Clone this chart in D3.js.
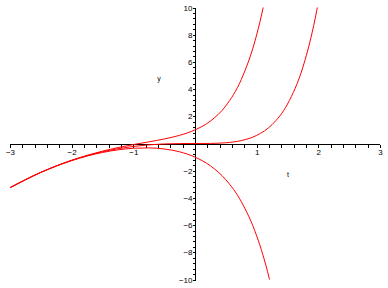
<!DOCTYPE html>
<html>
<head>
<meta charset="utf-8">
<script src="https://cdn.jsdelivr.net/npm/d3@7"></script>
<style>
  body { margin: 0; background: #fff; }
  text { font-family: "Liberation Sans", Arial, sans-serif; fill: #000; }
</style>
</head>
<body>
<div id="chart"></div>
<script>
// values
const tValues = [-3, -2.5, -2, -1.5, -1.25, -1, -0.75, -0.5, -0.25, 0, 0.25, 0.5, 0.75, 1, 1.1, 1.15];
const upperCurve = [-3.25, -2.12, -1.23, -0.56, -0.30, -0.08, 0.12, 0.33, 0.60, 1.00, 1.65, 2.77, 4.70, 7.99, 9.88, 10.98];

const tMiddle = [-3, -2.5, -2, -1.5, -1.25, -1, -0.75, -0.5, -0.25, 0, 0.25, 0.5, 0.75, 1, 1.25, 1.5, 1.75, 1.9, 1.95, 2];
const middleCurve = [-3.25, -2.12, -1.245, -0.61, -0.386, -0.216, -0.10, -0.033, -0.005, 0, 0.006, 0.055, 0.214, 0.597, 1.39, 2.90, 5.62, 8.17, 9.22, 10.40];

const tLower = [-3, -2.5, -2, -1.5, -1.25, -1, -0.75, -0.5, -0.25, 0, 0.25, 0.5, 0.75, 1, 1.1, 1.2, 1.25];
const lowerCurve = [-3.25, -2.13, -1.26, -0.66, -0.468, -0.351, -0.324, -0.401, -0.611, -1.0, -1.643, -2.664, -4.268, -6.79, -8.17, -9.84, -10.79];

const xTickLabels = [-3, -2, -1, 1, 2, 3];
const yTickLabels = [-10, -8, -6, -4, -2, 2, 4, 6, 8, 10];
const xLabel = 't';
const yLabel = 'y';

const width = 388, height = 288;

const svg = d3.select('#chart')
  .append('svg')
  .attr('width', width)
  .attr('height', height);

const x = d3.scaleLinear().domain([-3, 3]).range([10, 380]);
const y = d3.scaleLinear().domain([-10, 10]).range([279.5, 7.5]);

svg.append('defs').append('clipPath')
  .attr('id', 'plot-clip')
  .append('rect')
  .attr('x', x(-3))
  .attr('y', y(10))
  .attr('width', x(3) - x(-3))
  .attr('height', y(-10) - y(10));

const fmt = d => d3.format('')(d);

// minor ticks along x every 0.2, labels on integers
const xAxis = svg.append('g')
  .attr('transform', `translate(0,${Math.round(y(0)) + 0.5})`)
  .call(d3.axisBottom(x)
    .tickValues(d3.range(-15, 16).map(i => i / 5))
    .tickSize(3)
    .tickFormat(d => xTickLabels.includes(Math.round(d * 10) / 10) ? fmt(d) : ''));

xAxis.select('.domain').attr('stroke', '#000').attr('shape-rendering', 'crispEdges');
xAxis.selectAll('.tick line').attr('shape-rendering', 'crispEdges');
xAxis.selectAll('.tick text')
  .attr('y', 5)
  .style('font-size', '8px');

const yAxis = svg.append('g')
  .attr('transform', `translate(${Math.round(x(0)) + 0.5},0)`)
  .call(d3.axisLeft(y)
    .tickValues(d3.range(-25, 26).map(i => i * 0.4))
    .tickSize(3)
    .tickFormat(d => yTickLabels.includes(Math.round(d * 10) / 10) ? fmt(Math.round(d)) : ''));

yAxis.select('.domain').attr('stroke', '#000').attr('shape-rendering', 'crispEdges');
yAxis.selectAll('.tick line').attr('shape-rendering', 'crispEdges');
yAxis.selectAll('.tick text')
  .attr('x', -3)
  .style('font-size', '8px');

// hide the axis end caps d3 draws outside the ticks
xAxis.select('.domain').attr('d', `M${x(-3)},0H${x(3)}`);
yAxis.select('.domain').attr('d', `M0,${y(10)}V${y(-10)}`);

svg.append('text')
  .attr('x', 288)
  .attr('y', 177)
  .attr('text-anchor', 'middle')
  .style('font-size', '7px')
  .text(xLabel);

svg.append('text')
  .attr('x', 159)
  .attr('y', 81)
  .attr('text-anchor', 'middle')
  .style('font-size', '7px')
  .text(yLabel);

const line = d3.line()
  .x(d => x(d[0]))
  .y(d => y(d[1]))
  .curve(d3.curveMonotoneX);

const series = [
  d3.zip(tValues, upperCurve),
  d3.zip(tMiddle, middleCurve),
  d3.zip(tLower, lowerCurve)
];

svg.append('g')
  .attr('clip-path', 'url(#plot-clip)')
  .selectAll('path')
  .data(series)
  .join('path')
  .attr('fill', 'none')
  .attr('stroke', '#ff0000')
  .attr('stroke-width', 1)
  .attr('d', line);
</script>
</body>
</html>
